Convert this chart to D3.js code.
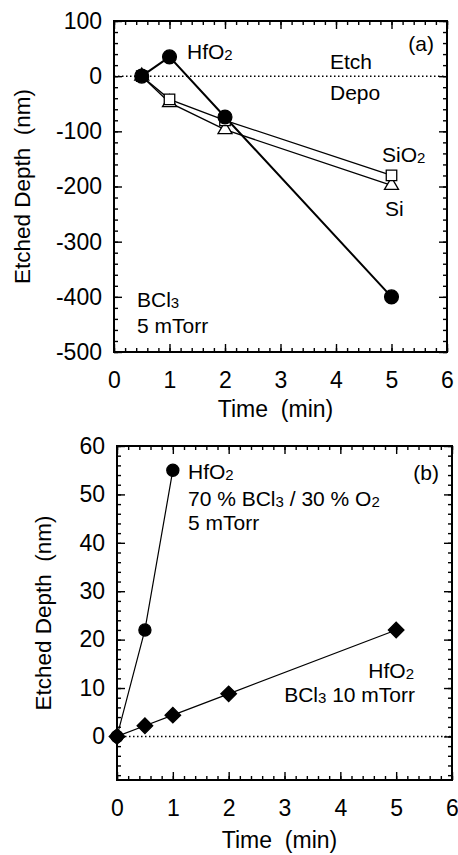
<!DOCTYPE html>
<html>
<head>
<meta charset="utf-8">
<script src="https://cdn.jsdelivr.net/npm/d3@7"></script>
<style>
  body { margin: 0; background: #fff; }
  svg { display: block; }
  text { font-family: "Liberation Sans", Arial, Helvetica, sans-serif; fill: #000; }
</style>
</head>
<body>
<svg id="chart" width="458" height="855"></svg>
<script>
// ---- panel (a) data : BCl3 5 mTorr
const timeA = [0.5, 1, 2, 5];
const hfo2A = [0, 35, -74, -400];
const sio2A = [0, -42, -80, -180];
const siA   = [0, -48, -97, -198];

// ---- panel (b) data
const timeB1 = [0, 0.5, 1];
const hfo2Mix = [0, 22, 55];          // 70% BCl3 / 30% O2, 5 mTorr
const timeB2 = [0, 0.5, 1, 2, 5];
const hfo2Bcl = [0, 2.2, 4.4, 8.8, 22]; // BCl3 10 mTorr

const xTicks = [0, 1, 2, 3, 4, 5, 6];
const yTicksA = [100, 0, -100, -200, -300, -400, -500];
const yTicksB = [0, 10, 20, 30, 40, 50, 60];

const svg = d3.select("#chart");
const fmt = d => String(d);
const FONT = "Liberation Sans, Arial, sans-serif";

function frame(g, x, y, opt) {
    const [x0, x1] = x.range();
    const [y0, y1] = y.range();
    const xMinor = d3.range(x.domain()[0], x.domain()[1] + 1e-9, 0.2);
    const yMinor = d3.range(opt.yMinorStart, y.domain()[1] + 1e-9, opt.yMinorStep);

    // minor ticks, all four sides
    const mk = (axisFn, scale, vals, tx, ty) => g.append("g")
        .attr("transform", `translate(${tx},${ty})`)
        .call(axisFn(scale).tickValues(vals).tickSize(-4).tickFormat(""))
        .call(s => s.select(".domain").remove())
        .selectAll("line").attr("stroke-width", 1.3);
    mk(d3.axisBottom, x, xMinor, 0, y0);
    mk(d3.axisTop, x, xMinor, 0, y1);
    mk(d3.axisLeft, y, yMinor, x0, 0);
    mk(d3.axisRight, y, yMinor, x1, 0);

    // major ticks with labels on bottom / left
    const bottom = g.append("g")
        .attr("transform", `translate(0,${y0})`)
        .call(d3.axisBottom(x).tickValues(xTicks).tickSize(-8).tickPadding(20).tickFormat(fmt));
    const left = g.append("g")
        .attr("transform", `translate(${x0},0)`)
        .call(d3.axisLeft(y).tickValues(opt.yTicks).tickSize(-8).tickPadding(12).tickFormat(fmt));
    g.append("g").attr("transform", `translate(0,${y1})`)
        .call(d3.axisTop(x).tickValues(xTicks).tickSize(-8).tickFormat(""));
    g.append("g").attr("transform", `translate(${x1},0)`)
        .call(d3.axisRight(y).tickValues(opt.yTicks).tickSize(-8).tickFormat(""));
    g.selectAll(".domain").remove();
    g.selectAll(".tick line").attr("stroke-width", 1.4);
    [bottom, left].forEach(a => a.selectAll("text")
        .attr("font-size", 23).attr("font-family", FONT).attr("fill", "#000"));

    // box
    g.append("rect")
        .attr("x", x0).attr("y", y1)
        .attr("width", x1 - x0).attr("height", y0 - y1)
        .attr("fill", "none").attr("stroke", "#000").attr("stroke-width", 2);

    // zero line, dotted
    g.append("line")
        .attr("x1", x0).attr("x2", x1)
        .attr("y1", y(0)).attr("y2", y(0))
        .attr("stroke", "#000").attr("stroke-width", 1.5)
        .attr("stroke-dasharray", "1.5,2.5");

    // axis titles
    g.append("text")
        .attr("transform", `translate(${opt.yTitleX},${(y0 + y1) / 2}) rotate(-90)`)
        .attr("text-anchor", "middle").attr("font-size", 22.5)
        .text("Etched Depth\u00a0\u00a0(nm)");
    g.append("text")
        .attr("x", (x0 + x1) / 2 - 5).attr("y", y0 + opt.xTitleDy)
        .attr("text-anchor", "middle").attr("font-size", 23)
        .text("Time\u00a0\u00a0(min)");
}

// text with subscripts: parts = [[text, isSub], ...]
function label(g, px, py, parts, anchor) {
    const t = g.append("text").attr("x", px).attr("y", py)
        .attr("font-size", 21).attr("text-anchor", anchor || "start");
    let prevSub = false;
    parts.forEach(([s, sub]) => {
        const dy = sub ? (prevSub ? 0 : 1) : (prevSub ? -1 : 0);
        t.append("tspan").attr("font-size", sub ? 15 : 21).attr("dy", dy).text(s);
        prevSub = !!sub;
    });
}

function series(g, x, y, xs, ys, lw) {
    const pts = xs.map((d, i) => [d, ys[i]]);
    g.append("path")
        .datum(pts)
        .attr("fill", "none").attr("stroke", "#000").attr("stroke-width", lw)
        .attr("d", d3.line().x(d => x(d[0])).y(d => y(d[1])));
    return pts;
}

function markers(g, x, y, pts, sym, size, filled, rot) {
    g.selectAll(null).data(pts).join("path")
        .attr("transform", d => `translate(${x(d[0])},${y(d[1])}) rotate(${rot || 0})`)
        .attr("d", d3.symbol().type(sym).size(size))
        .attr("fill", filled ? "#000" : "#fff")
        .attr("stroke", "#000").attr("stroke-width", 1.3);
}

// ================= panel (a)
{
    const g = svg.append("g");
    const x = d3.scaleLinear().domain([0, 6]).range([114, 447]);
    const y = d3.scaleLinear().domain([-500, 100]).range([352, 21]);
    frame(g, x, y, { yTicks: yTicksA, yMinorStart: -500, yMinorStep: 20, yTitleX: 30, xTitleDy: 65 });

    const pSi = series(g, x, y, timeA, siA, 1.3);
    const pSiO2 = series(g, x, y, timeA, sio2A, 1.3);
    const pHf = series(g, x, y, timeA, hfo2A, 2);
    markers(g, x, y, pSi, d3.symbolTriangle, 85, false);
    markers(g, x, y, pSiO2, d3.symbolSquare, 110, false);
    markers(g, x, y, pHf, d3.symbolCircle, 150, true);

    label(g, 187, 59, [["HfO"], ["2", true]]);
    label(g, 434, 51, [["(a)"]], "end");
    label(g, 330, 69, [["Etch"]]);
    label(g, 330, 100, [["Depo"]]);
    label(g, 382, 162, [["SiO"], ["2", true]]);
    label(g, 385, 216, [["Si"]]);
    label(g, 137, 307, [["BCl"], ["3", true]]);
    label(g, 137, 333, [["5 mTorr"]]);
}

// ================= panel (b)
{
    const g = svg.append("g");
    const x = d3.scaleLinear().domain([0, 6]).range([117, 452]);
    const y = d3.scaleLinear().domain([-9, 60]).range([780, 446]);
    frame(g, x, y, { yTicks: yTicksB, yMinorStart: -8, yMinorStep: 2, yTitleX: 51, xTitleDy: 68 });

    const pMix = series(g, x, y, timeB1, hfo2Mix, 1.2);
    const pBcl = series(g, x, y, timeB2, hfo2Bcl, 1.2);
    markers(g, x, y, pMix, d3.symbolCircle, 115, true);
    markers(g, x, y, pBcl, d3.symbolSquare, 121, true, 45);

    label(g, 188, 479, [["HfO"], ["2", true]]);
    label(g, 188, 506, [["70 % BCl"], ["3", true], [" / 30 % O"], ["2", true]]);
    label(g, 188, 530, [["5 mTorr"]]);
    label(g, 439, 480, [["(b)"]], "end");
    label(g, 414, 678, [["HfO"], ["2", true]], "end");
    label(g, 415, 702, [["BCl"], ["3", true], [" 10 mTorr"]], "end");
}
</script>
</body>
</html>
